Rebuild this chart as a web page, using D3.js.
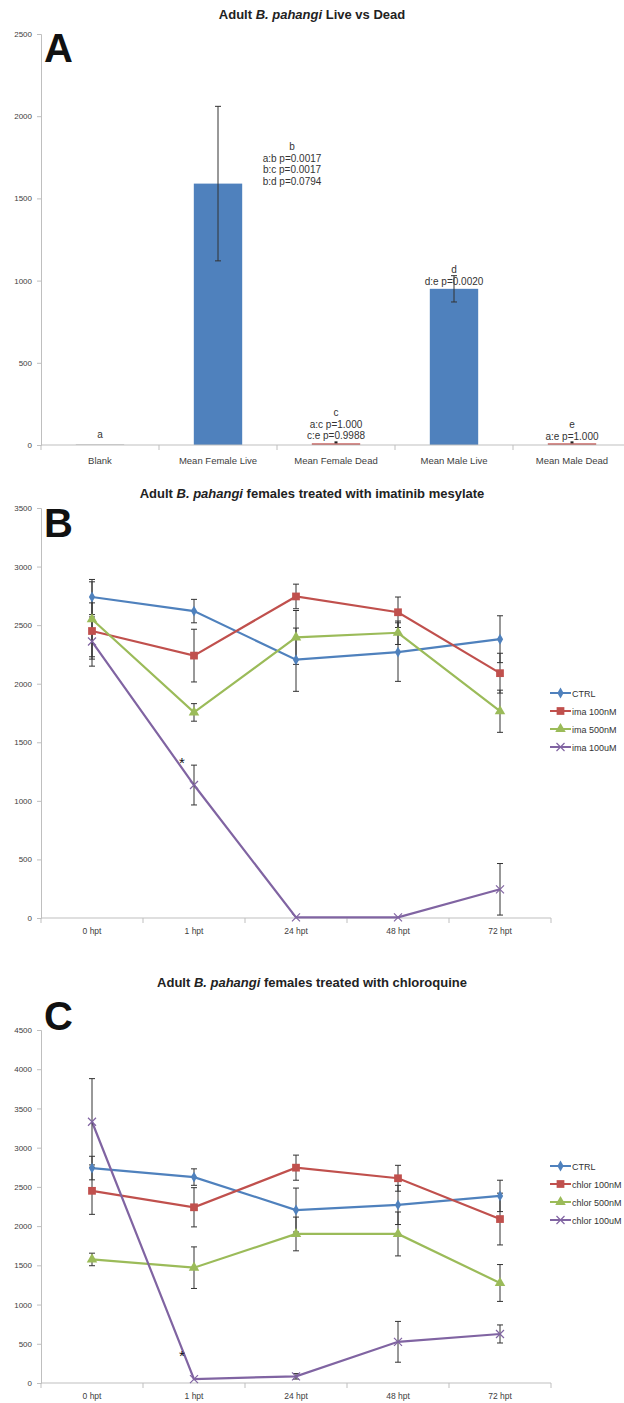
<!DOCTYPE html>
<html><head><meta charset="utf-8">
<title>B. pahangi viability</title>
<script src="https://d3js.org/d3.v7.min.js"></script>
<style>
  body { margin: 0; background: #fff; }
  svg text { font-family: "Liberation Sans", Arial, sans-serif; }
  .axis .domain, .axis line { stroke: #bfbfbf; }
  .axis text { fill: #404040; font-size: 8px; }
  .title { font-size: 13px; font-weight: bold; fill: #222; text-anchor: middle; }
  .letter { font-size: 40px; font-weight: bold; fill: #111; }
  .note { font-size: 10px; fill: #333; text-anchor: middle; }
  .legend text { font-size: 9px; fill: #333; }
  .errbar line { stroke: #333; stroke-width: 1; }
</style>
</head><body>
<svg id="fig" width="624" height="1403"></svg>
<script>
// ---- Panel A data ----
let catsA = ["Blank", "Mean Female Live", "Mean Female Dead", "Mean Male Live", "Mean Male Dead"];
let meansA = [5, 1590, 10, 950, 10];
let errA = [0, 470, 0, 80, 0];
let barColorsA = ["#c8c8c8", "#4f81bd", "#c0504d", "#4f81bd", "#c0504d"];
let ticksA = [0, 500, 1000, 1500, 2000, 2500];
// letters and p-values, anchored at a value on the y axis
let notesA = [
  { cat: "Blank", at: 67, lines: ["a"] },
  { cat: "Mean Female Live", at: 1819, lines: ["b", "a:b p=0.0017", "b:c p=0.0017", "b:d p=0.0794"], shift: 74 },
  { cat: "Mean Female Dead", at: 200, lines: ["c", "a:c p=1.000", "c:e p=0.9988"] },
  { cat: "Mean Male Live", at: 1070, lines: ["d", "d:e p=0.0020"] },
  { cat: "Mean Male Dead", at: 128, lines: ["e", "a:e p=1.000"] }
];

// ---- Panels B / C shared ----
let hpt = ["0 hpt", "1 hpt", "24 hpt", "48 hpt", "72 hpt"];
let colors = ["#4f81bd", "#c0504d", "#9bbb59", "#8064a2"];
let shapes = ["diamond", "square", "triangle", "x"];

// ---- Panel B: imatinib ----
let namesB = ["CTRL", "ima 100nM", "ima 500nM", "ima 100uM"];
let ctrlB = [2740, 2620, 2205, 2270, 2380];
let ctrlErrB = [150, 100, 270, 250, 200];
let ima100nB = [2450, 2240, 2745, 2610, 2090];
let ima100nErrB = [240, 225, 105, 130, 170];
let ima500nB = [2550, 1755, 2395, 2435, 1765];
let ima500nErrB = [320, 75, 230, 100, 180];
let ima100uB = [2360, 1135, 5, 5, 245];
let ima100uErrB = [210, 170, 0, 0, 220];
let ticksB = [0, 500, 1000, 1500, 2000, 2500, 3000, 3500];
let starB = { t: "1 hpt", at: 1350 };

// ---- Panel C: chloroquine ----
let namesC = ["CTRL", "chlor 100nM", "chlor 500nM", "chlor 100uM"];
let ctrlC = [2740, 2625, 2205, 2270, 2385];
let ctrlErrC = [150, 105, 280, 250, 200];
let chlor100nC = [2450, 2240, 2745, 2610, 2090];
let chlor100nErrC = [300, 250, 160, 165, 330];
let chlor500nC = [1575, 1470, 1900, 1900, 1275];
let chlor500nErrC = [80, 265, 215, 280, 235];
let chlor100uC = [3330, 50, 85, 525, 625];
let chlor100uErrC = [550, 0, 35, 260, 115];
let ticksC = [0, 500, 1000, 1500, 2000, 2500, 3000, 3500, 4000, 4500];
let starC = { t: "1 hpt", at: 383 };

let svg = d3.select("#fig");

// title with italic species name
function title(y, before, after) {
  let t = svg.append("text").attr("class", "title").attr("x", 312).attr("y", y);
  t.append("tspan").text(before);
  t.append("tspan").attr("font-style", "italic").text("B. pahangi");
  t.append("tspan").text(after);
}

function errorBars(g, x, y, means, errs) {
  let eb = g.append("g").attr("class", "errbar");
  means.forEach(function(m, i) {
    let e = errs[i];
    if (!e) return;
    let cx = x(i);
    eb.append("line").attr("x1", cx).attr("x2", cx).attr("y1", y(m - e)).attr("y2", y(m + e));
    eb.append("line").attr("x1", cx - 3).attr("x2", cx + 3).attr("y1", y(m - e)).attr("y2", y(m - e));
    eb.append("line").attr("x1", cx - 3).attr("x2", cx + 3).attr("y1", y(m + e)).attr("y2", y(m + e));
  });
}

function marker(g, shape, color, cx, cy) {
  if (shape === "x") {
    g.append("path")
      .attr("d", "M" + (cx - 4) + "," + (cy - 4) + "L" + (cx + 4) + "," + (cy + 4) +
                 "M" + (cx - 4) + "," + (cy + 4) + "L" + (cx + 4) + "," + (cy - 4))
      .attr("stroke", color).attr("stroke-width", 1.2).attr("fill", "none");
    return;
  }
  let type = { diamond: d3.symbolDiamond, square: d3.symbolSquare, triangle: d3.symbolTriangle }[shape];
  let size = { diamond: 34, square: 60, triangle: 48 }[shape];
  g.append("path")
    .attr("d", d3.symbol().type(type).size(size)())
    .attr("transform", "translate(" + cx + "," + cy + ")")
    .attr("fill", color);
}

// ================= Panel A =================
let xA = d3.scaleBand().domain(catsA).range([41, 631]);
let yA = d3.scaleLinear().domain([0, 2500]).range([445, 34]);

title(19, "Adult ", " Live vs Dead");

svg.append("g").attr("class", "axis")
  .attr("transform", "translate(41,0)")
  .call(d3.axisLeft(yA).tickValues(ticksA).tickSize(4).tickPadding(5).tickFormat(d3.format("d")));

let barW = xA.bandwidth() * 0.41;
svg.append("g").selectAll("rect").data(catsA).join("rect")
  .attr("x", d => xA(d) + xA.bandwidth() / 2 - barW / 2)
  .attr("width", barW)
  .attr("y", (d, i) => yA(meansA[i]))
  .attr("height", (d, i) => yA(0) - yA(meansA[i]))
  .attr("fill", (d, i) => barColorsA[i]);

let axA = svg.append("g").attr("class", "axis").attr("transform", "translate(0,445)");
axA.append("line").attr("x1", 41).attr("x2", 631).attr("stroke", "#bfbfbf");
axA.selectAll(".tk").data(d3.range(catsA.length + 1)).join("line")
  .attr("x1", i => 41 + i * xA.step()).attr("x2", i => 41 + i * xA.step())
  .attr("y1", 0).attr("y2", 5);
axA.selectAll("text").data(catsA).join("text")
  .attr("x", d => xA(d) + xA.bandwidth() / 2).attr("y", 19)
  .attr("text-anchor", "middle").style("font-size", "9.5px")
  .text(d => d);

errorBars(svg, i => xA(catsA[i]) + xA.bandwidth() / 2, yA, meansA, errA);
// tiny error marks on the dead bars
[2, 4].forEach(function(i) {
  svg.append("rect").attr("x", xA(catsA[i]) + xA.bandwidth() / 2 - 1.5).attr("y", yA(meansA[i]) - 2)
    .attr("width", 3).attr("height", 2).attr("fill", "#222");
});

notesA.forEach(function(n) {
  let cx = xA(n.cat) + xA.bandwidth() / 2 + (n.shift || 0);
  n.lines.forEach(function(l, k) {
    svg.append("text").attr("class", "note")
      .attr("x", cx).attr("y", yA(n.at) + 4 + k * 11.6).text(l);
  });
});

svg.append("text").attr("class", "letter").attr("x", 44).attr("y", 62).text("A");

// ================= Panels B and C =================
function linePanel(opts) {
  let x = d3.scaleBand().domain(hpt).range([41, 551]);
  let y = d3.scaleLinear().domain([0, opts.max]).range([opts.zero, opts.top]);
  let cxAt = i => x(hpt[i]) + x.bandwidth() / 2;

  title(opts.titleY, "Adult ", opts.titleRest);

  svg.append("g").attr("class", "axis")
    .attr("transform", "translate(41,0)")
    .call(d3.axisLeft(y).tickValues(opts.ticks).tickSize(4).tickPadding(5).tickFormat(d3.format("d")));

  let ax = svg.append("g").attr("class", "axis").attr("transform", "translate(0," + opts.zero + ")");
  ax.append("line").attr("x1", 41).attr("x2", 551).attr("stroke", "#bfbfbf");
  ax.selectAll(".tk").data(d3.range(hpt.length + 1)).join("line")
    .attr("x1", i => 41 + i * x.step()).attr("x2", i => 41 + i * x.step())
    .attr("y1", 0).attr("y2", 5);
  ax.selectAll("text").data(hpt).join("text")
    .attr("x", d => x(d) + x.bandwidth() / 2).attr("y", 16)
    .attr("text-anchor", "middle").style("font-size", "8.5px")
    .text(d => d);

  let line = d3.line().x((d, i) => cxAt(i)).y(d => y(d));
  opts.means.forEach(function(m, s) {
    svg.append("path").attr("d", line(m))
      .attr("fill", "none").attr("stroke", colors[s]).attr("stroke-width", 2.2);
  });
  opts.means.forEach(function(m, s) {
    errorBars(svg, cxAt, y, m, opts.errs[s]);
  });
  let mk = svg.append("g");
  opts.means.forEach(function(m, s) {
    m.forEach(function(v, i) { marker(mk, shapes[s], colors[s], cxAt(i), y(v)); });
  });

  // significance star
  svg.append("text").attr("x", cxAt(hpt.indexOf(opts.star.t)) - 12).attr("y", y(opts.star.at) + 8)
    .attr("text-anchor", "middle").style("font-size", "15px").attr("fill", "#111").text("*");

  // legend
  let lg = svg.append("g").attr("class", "legend");
  opts.names.forEach(function(nm, s) {
    let ly = opts.legendY + s * 18;
    lg.append("line").attr("x1", 550).attr("x2", 571).attr("y1", ly).attr("y2", ly)
      .attr("stroke", colors[s]).attr("stroke-width", 2);
    marker(lg, shapes[s], colors[s], 560.5, ly);
    lg.append("text").attr("x", 572).attr("y", ly + 3.5).text(nm);
  });

  svg.append("text").attr("class", "letter").attr("x", 44).attr("y", opts.letterY).text(opts.letter);
}

linePanel({
  letter: "B", letterY: 537, titleY: 498, titleRest: " females treated with imatinib mesylate",
  max: 3500, zero: 918, top: 508, ticks: ticksB,
  names: namesB,
  means: [ctrlB, ima100nB, ima500nB, ima100uB],
  errs: [ctrlErrB, ima100nErrB, ima500nErrB, ima100uErrB],
  star: starB, legendY: 693
});

linePanel({
  letter: "C", letterY: 1030, titleY: 987, titleRest: " females treated with chloroquine",
  max: 4500, zero: 1383, top: 1030, ticks: ticksC,
  names: namesC,
  means: [ctrlC, chlor100nC, chlor500nC, chlor100uC],
  errs: [ctrlErrC, chlor100nErrC, chlor500nErrC, chlor100uErrC],
  star: starC, legendY: 1166
});
</script>
</body></html>
